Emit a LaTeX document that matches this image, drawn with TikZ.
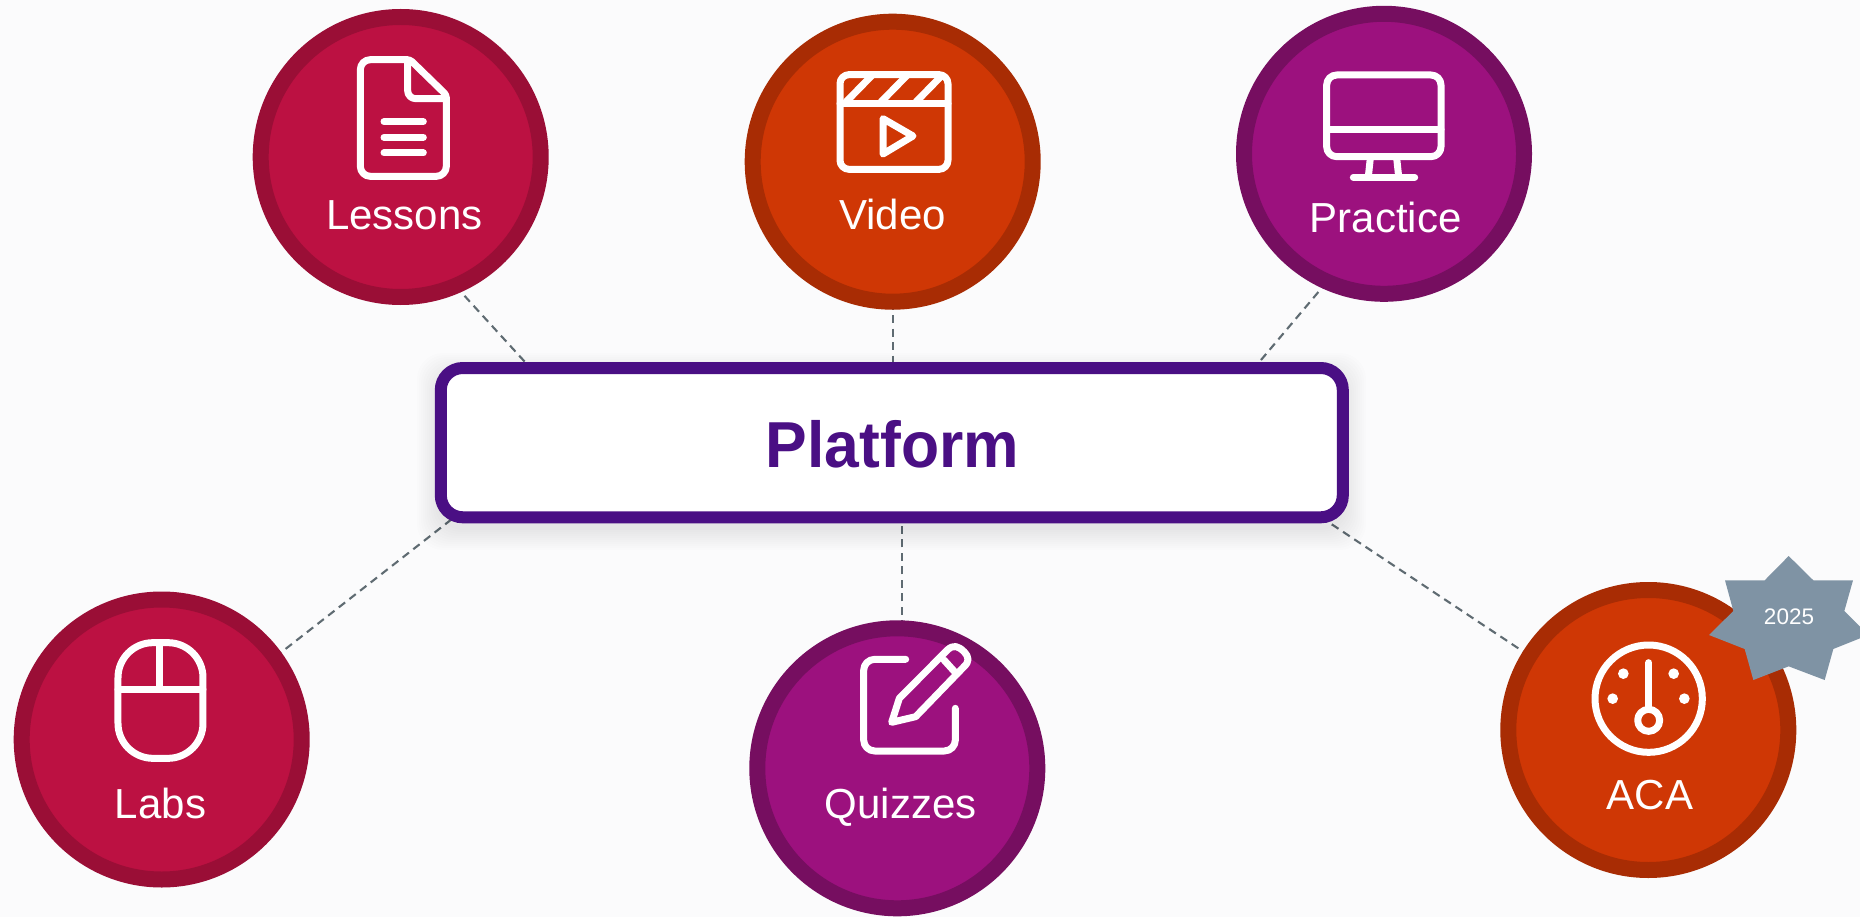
\documentclass[tikz,border=0pt]{standalone}
\usepackage{fontspec}
\setmainfont{Liberation Sans}
\newfontfamily\titlefont[FakeStretch=0.96]{Liberation Sans Bold}
\usetikzlibrary{backgrounds}
\definecolor{pagebg}{HTML}{FBFBFC}
\definecolor{crimA}{HTML}{BC1142}
\definecolor{crimB}{HTML}{9A0E36}
\definecolor{oranA}{HTML}{CF3705}
\definecolor{oranB}{HTML}{A82C04}
\definecolor{purpA}{HTML}{9C117E}
\definecolor{purpB}{HTML}{760E60}
\definecolor{indigo}{HTML}{4A0F84}
\definecolor{badge}{HTML}{7F93A4}
\definecolor{dashgray}{HTML}{5F6B72}
\tikzset{
  disc/.style 2 args={circle,draw=#2,fill=#1,line width=16pt,minimum size=280pt,inner sep=0pt,outer sep=0pt},
  lab/.style={anchor=base,text=white,font=\fontsize{42}{42}\selectfont,inner sep=0pt,outer sep=0pt},
  link/.style={draw=dashgray,line width=2.1pt,dash pattern=on 8pt off 5.5pt},
  icon/.style={draw=white,line width=7pt,line cap=round,line join=round},
  crop/.style 2 args={x=0.333333pt,y=-0.333333pt,xshift=#1pt,yshift=-#2pt},
  halo/.style={fill=black,fill opacity=0.009,draw=none}
}
\begin{document}
\begin{tikzpicture}[x=1pt,y=-1pt]
\useasboundingbox (0,0) rectangle (1860,917);
% circles
\node[disc={crimA}{crimB}] (lessons) at (400.7,157) {};
\node[disc={oranA}{oranB}] (video) at (892.7,161.7) {};
\node[disc={purpA}{purpB}] (practice) at (1384,153.8) {};
\node[disc={crimA}{crimB}] (labs) at (161.7,739.5) {};
\node[disc={purpA}{purpB}] (quizzes) at (897.3,768.3) {};
\node[disc={oranA}{oranB}] (aca) at (1648.3,730) {};
% platform shadow
\foreach \g in {1,...,11}{
  \path[halo,rounded corners=26pt] (439-2*\g,375-2*\g) rectangle (1344+2*\g,528+2*\g);
}
\node[draw=indigo,fill=white,line width=12pt,rounded corners=22pt,minimum width=902pt,minimum height=149.3pt,inner sep=0pt,outer sep=0pt] (platform) at (891.8,442.65) {};
\node[anchor=base,text=indigo,font=\fontsize{65}{65}\selectfont\titlefont,inner sep=0pt] (platformText) at (892.5,467.3) {Platform};
% connector ends on the platform
\coordinate (pLessons) at (525,362);
\coordinate (pPractice) at (1259.3,362);
\coordinate (pLabs) at (450.7,520);
\coordinate (pAca) at (1331.7,524.3);
\begin{scope}[on background layer]
  \fill[pagebg] (0,0) rectangle (1860,917);
  \draw[link] (lessons.-67.4) -- (pLessons);
  \draw[link] (video) -- (video |- platform.north);
  \draw[link] (practice.-114.8) -- (pPractice);
  \draw[link] (labs.36) -- (pLabs);
  \draw[link] (quizzes.88.8) -- (quizzes.88.8 |- platform.south);
  \draw[link] (aca.148.4) -- (pAca);
\end{scope}
% labels
\node[lab] (lessonsLabel) at (404.5,229.3) {Lessons};
\node[lab] (videoLabel) at (892.5,230) {Video};
\node[lab] (practiceLabel) at (1385.7,232.7) {Practice};
\node[lab] (labsLabel) at (160.5,818.7) {Labs};
\node[lab] (quizzesLabel) at (900.5,818.7) {Quizzes};
\node[lab] (acaLabel) at (1650,809.3) {ACA};
% Lessons icon
\begin{scope}[crop={240}{0}]
  \draw[icon,rounded corners=10pt] (361,350) -- (361,179) [rounded corners=3pt] -- (510,179) -- (619,285) [rounded corners=10pt] -- (619,529) -- (361,529) -- cycle;
  \draw[icon,rounded corners=8pt] (503,185) -- (503,296) -- (619,296);
  \draw[icon] (432,365) -- (550,365);
  \draw[icon] (432,412) -- (550,412);
  \draw[icon] (432,459) -- (550,459);
\end{scope}
% Video icon
\begin{scope}[crop={730}{0}]
  \draw[icon,rounded corners=9pt] (330,224) rectangle (654,508);
  \draw[icon] (330,312) -- (654,312);
  \draw[icon,line cap=butt] (428,224) -- (342,312);
  \draw[icon,line cap=butt] (533,224) -- (447,312);
  \draw[icon,line cap=butt] (638,224) -- (552,312);
  \draw[icon] (459,356) -- (549,408) -- (459,462) -- cycle;
\end{scope}
% Practice icon
\begin{scope}[crop={1220}{0}]
  \draw[icon,rounded corners=10pt] (320,225) rectangle (663,470);
  \draw[icon] (320,388) -- (663,388);
  \draw[icon,line cap=butt] (451,474) -- (445,530);
  \draw[icon,line cap=butt] (530,474) -- (536,530);
  \draw[icon] (400,532) -- (584,532);
\end{scope}
% Labs icon
\begin{scope}[crop={0}{590}]
  \draw[icon,rounded corners=35pt] (354,158) rectangle (609,505);
  \draw[icon] (354,297) -- (609,297);
  \draw[icon] (480,158) -- (480,297);
\end{scope}
% Quizzes icon
\begin{scope}[crop={740}{600}]
  \draw[icon,rounded corners=11pt] (497,178) -- (371,178) -- (371,453) -- (646,453) -- (646,325);
  \draw[icon] (455,367) -- (478,295) -- (622,150) .. controls (640,133) and (655,138) .. (672,155) .. controls (688,172) and (688,185) .. (672,200) -- (527,350) -- cycle;
  \draw[icon] (612,180) -- (650,222);
\end{scope}
% ACA icon
\begin{scope}[crop={1490}{540}]
  \draw[icon] (476,476) circle[radius=161];
  \draw[icon] (476,368) -- (476,505);
  \draw[icon] (476,541) circle[radius=33];
  \fill[white] (400,401) circle[radius=16];
  \fill[white] (551,401) circle[radius=16];
  \fill[white] (368,476) circle[radius=16];
  \fill[white] (583,476) circle[radius=16];
\end{scope}
% badge
\begin{scope}
  \clip (0,0) rectangle (1860,917);
  \begin{scope}[crop={1700}{545}]
    \fill[badge] (266,33) -- (340,106) -- (459,106) -- (433,198) -- (505,270) -- (400,312) -- (374,405) -- (266,364) -- (160,405) -- (134,312) -- (27,270) -- (100,198) -- (75,106) -- (194,106) -- cycle;
  \end{scope}
  \node[anchor=base,text=white,font=\fontsize{22.5}{22.5}\selectfont,inner sep=0pt] (badgeText) at (1789,624) {2025};
\end{scope}
\end{tikzpicture}
\end{document}
